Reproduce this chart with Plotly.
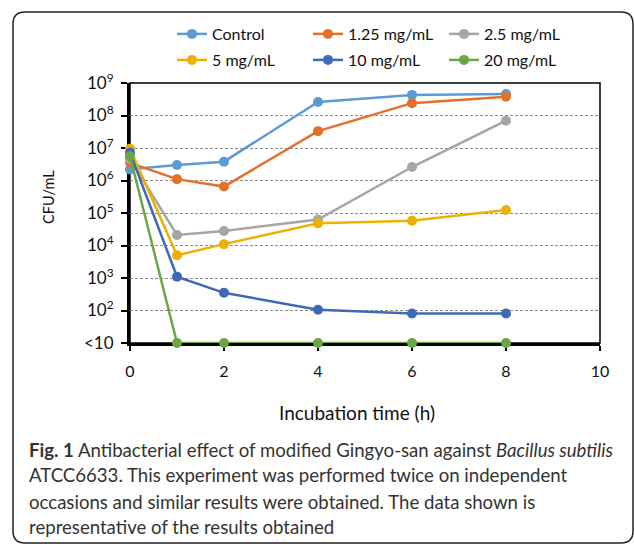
import plotly.graph_objects as go

hours = [0, 1, 2, 4, 6, 8]
series_names = ["Control", "1.25 mg/mL", "2.5 mg/mL", "5 mg/mL", "10 mg/mL", "20 mg/mL"]
control = [2.2e6, 3.0e6, 3.8e6, 2.6e8, 4.3e8, 4.6e8]
c125 = [3.5e6, 1.1e6, 6.5e5, 3.3e7, 2.4e8, 3.8e8]
c25 = [4.6e6, 2.1e4, 2.8e4, 6.3e4, 2.6e6, 6.9e7]
c5 = [9.4e6, 5.0e3, 1.1e4, 4.8e4, 5.8e4, 1.23e5]
c10 = [7.2e6, 1.1e3, 3.5e2, 1.05e2, 8.1e1, 8.1e1]
c20 = [5.6e6, 10, 10, 10, 10, 10]
colors = ["#5B9BD5", "#E2712C", "#A5A5A5", "#EBB100", "#3F69B8", "#6AA643"]
y_tickvals = [10, 1e2, 1e3, 1e4, 1e5, 1e6, 1e7, 1e8, 1e9]
y_ticktext = ["&lt;10", "10<sup>2</sup>", "10<sup>3</sup>", "10<sup>4</sup>", "10<sup>5</sup>",
              "10<sup>6</sup>", "10<sup>7</sup>", "10<sup>8</sup>", "10<sup>9</sup>"]
x_tickvals = [0, 2, 4, 6, 8, 10]
caption_lines = [
    "<b>Fig. 1</b> Antibacterial effect of modified Gingyo-san against <i>Bacillus subtilis</i>",
    "ATCC6633. This experiment was performed twice on independent",
    "occasions and similar results were obtained. The data shown is",
    "representative of the results obtained",
]

W, H = 634, 544
L, R, T, B = 130, 600, 83, 343
PW, PH = R - L, B - T


def px(X):
    return (X - L) / PW


def py(Y):
    return (B - Y) / PH


FONT = "Lato"
fig = go.Figure()
all_series = [control, c125, c25, c5, c10, c20]
for i, (name, vals) in enumerate(zip(series_names, all_series)):
    fig.add_trace(go.Scatter(
        x=hours, y=vals, name=name, mode="lines+markers",
        line=dict(color=colors[i], width=2.5),
        marker=dict(color=colors[i], size=10),
        cliponaxis=False,
        legend="legend" if i < 3 else "legend2",
    ))

shapes = [
    dict(type="rect", xref="paper", yref="paper", x0=0, x1=1, y0=0, y1=1,
         line=dict(color="black", width=1.5), layer="below"),
    dict(type="path", xref="paper", yref="paper",
         path=(f"M {px(13)},{py(531)} L {px(13)},{py(24)} Q {px(13)},{py(12)} {px(25)},{py(12)} "
               f"L {px(621)},{py(12)} Q {px(633)},{py(12)} {px(633)},{py(24)} L {px(633)},{py(531)} "
               f"Q {px(633)},{py(543)} {px(621)},{py(543)} L {px(25)},{py(543)} "
               f"Q {px(13)},{py(543)} {px(13)},{py(531)}"),
         line=dict(color="#222", width=1.5)),
]

annotations = [
    dict(text="Incubation time (h)", xref="paper", yref="paper", x=px(357), y=py(412),
         showarrow=False, font=dict(family=FONT, size=19, color="#111"), xanchor="center", yanchor="middle"),
    dict(text="CFU/mL", xref="paper", yref="paper", x=px(48), y=py(197), textangle=-90,
         showarrow=False, font=dict(family=FONT, size=14.5, color="#111"), xanchor="center", yanchor="middle"),
]
cap_y = [450, 475, 502, 527]
for line, yy in zip(caption_lines, cap_y):
    annotations.append(dict(text=line, xref="paper", yref="paper", x=px(27), y=py(yy),
                            showarrow=False, xanchor="left", yanchor="middle",
                            font=dict(family=FONT, size=18.6, color="#333")))

leg_common = dict(orientation="h", xref="paper", yref="paper", xanchor="left", yanchor="middle",
                  entrywidth=91, entrywidthmode="pixels", itemwidth=30, bgcolor="rgba(0,0,0,0)",
                  font=dict(family=FONT, size=16, color="#111"), traceorder="normal", tracegroupgap=0)

fig.update_layout(
    width=W, height=H,
    margin=dict(l=L, r=W - R, t=T, b=H - B, pad=0),
    paper_bgcolor="white", plot_bgcolor="white",
    font=dict(family=FONT, size=15, color="#111"),
    showlegend=True,
    legend=dict(**leg_common, x=px(172), y=py(34)),
    legend2=dict(**leg_common, x=px(172), y=py(60)),
    xaxis=dict(range=[0, 10], tickvals=x_tickvals, showgrid=False, showline=True,
               linecolor="black", linewidth=3, ticks="outside", ticklen=5, tickwidth=2,
               tickcolor="black", zeroline=False, layer="below traces", ticklabelstandoff=7,
               tickfont=dict(family=FONT, size=16, color="#111")),
    yaxis=dict(type="log", range=[1, 9], tickvals=y_tickvals, ticktext=y_ticktext,
               showgrid=True, gridcolor="#8c8c8c", gridwidth=1, griddash="3px,2px",
               showline=True, linecolor="black", linewidth=3, ticks="outside", ticklen=6,
               tickwidth=2, tickcolor="black", zeroline=False, layer="below traces",
               ticklabelstandoff=4,
               tickfont=dict(family=FONT, size=17, color="#111")),
    shapes=shapes,
    annotations=annotations,
)

fig.write_html("out.html", config={"displayModeBar": False},
               post_script="document.body.style.margin='0';")
